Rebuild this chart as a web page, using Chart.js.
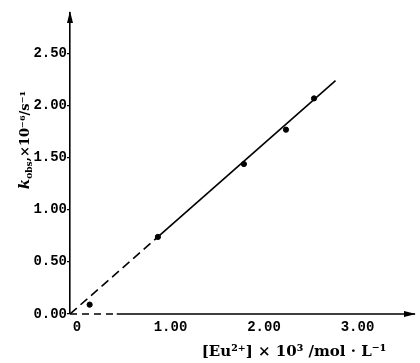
<!DOCTYPE html>
<html><head><meta charset="utf-8">
<script src="https://cdn.jsdelivr.net/npm/chart.js@4"></script>
<style>html,body{margin:0;padding:0;background:#fff}#wrap{width:420px;height:363px}</style>
</head><body><div id="wrap"><canvas id="c" width="420" height="363"></canvas></div>
<script>
const concX = [0.21, 0.94, 1.86, 2.31, 2.61];
const kobsY = [0.09, 0.74, 1.44, 1.77, 2.07];
const fitDashedX = [0, 0.94];
const fitDashedY = [0, 0.74];
const fitSolidX = [0.94, 2.84];
const fitSolidY = [0.74, 2.24];
const axisDashX = [0, 0.5];
const axisSolidX = [0.5, 3.69];
const xTicks = [0, 1, 2, 3];
const xTickLabels = ['0', '1.00', '2.00', '3.00'];
const yTicks = [0, 0.5, 1, 1.5, 2, 2.5];
const yTickLabels = ['0.00', '0.50', '1.00', '1.50', '2.00', '2.50'];
const xMax = 3.69, yMax = 2.89;

const pts = (xs, ys) => xs.map((x, i) => ({x, y: ys[i]}));

const arrows = {
  id: 'arrows',
  afterDraw(chart) {
    const {ctx, scales: {x, y}} = chart;
    ctx.save();
    ctx.fillStyle = '#000';
    const x0 = x.getPixelForValue(0), yt = y.getPixelForValue(yMax);
    ctx.beginPath(); ctx.moveTo(x0, yt - 2); ctx.lineTo(x0 - 3, yt + 10); ctx.lineTo(x0 + 3, yt + 10); ctx.closePath(); ctx.fill();
    const y0 = y.getPixelForValue(0), xr = x.getPixelForValue(xMax);
    ctx.beginPath(); ctx.moveTo(xr + 1, y0); ctx.lineTo(xr - 11, y0 - 3); ctx.lineTo(xr - 11, y0 + 3); ctx.closePath(); ctx.fill();
    ctx.textBaseline = 'alphabetic';
    ctx.font = 'bold 15px "DejaVu Serif", serif';
    ctx.textAlign = 'center';
    ctx.fillText('[Eu²⁺] × 10³ /mol · L⁻¹', 294, 356);
    ctx.translate(29, 140);
    ctx.rotate(-Math.PI / 2);
    ctx.textAlign = 'left';
    const parts = [
      {t: 'k', f: 'italic bold 15px "DejaVu Serif", serif', dy: 0},
      {t: 'obs', f: 'bold 9px "DejaVu Serif", serif', dy: 3},
      {t: ',×10⁻⁶/s⁻¹', f: 'bold 13px "DejaVu Serif", serif', dy: 0}
    ];
    let w = 0;
    parts.forEach(p => { ctx.font = p.f; w += ctx.measureText(p.t).width; });
    let cx = -w / 2;
    parts.forEach(p => { ctx.font = p.f; ctx.fillText(p.t, cx, p.dy); cx += ctx.measureText(p.t).width; });
    ctx.restore();
  }
};

new Chart(document.getElementById('c'), {
  type: 'scatter',
  data: {
    datasets: [
      {data: pts(axisDashX, [0, 0]), showLine: true, borderColor: '#000', borderWidth: 1.6, borderDash: [7, 5], pointRadius: 0, clip: false},
      {data: pts(axisSolidX, [0, 0]), showLine: true, borderColor: '#000', borderWidth: 1.6, pointRadius: 0, clip: false},
      {data: pts(fitDashedX, fitDashedY), showLine: true, borderColor: '#000', borderWidth: 1.6, borderDash: [9, 5], pointRadius: 0},
      {data: pts(fitSolidX, fitSolidY), showLine: true, borderColor: '#000', borderWidth: 1.6, pointRadius: 0},
      {data: pts(concX, kobsY), showLine: false, pointRadius: 2.6, pointBackgroundColor: '#000', pointBorderColor: '#000'}
    ]
  },
  options: {
    responsive: false,
    animation: false,
    devicePixelRatio: 1,
    layout: {padding: {top: 13, right: 2, left: 0, bottom: 0}},
    plugins: {legend: {display: false}, tooltip: {enabled: false}},
    scales: {
      x: {
        type: 'linear', min: 0, max: xMax,
        afterBuildTicks: s => { s.ticks = xTicks.map(v => ({value: v})); },
        afterFit: s => { s.height = 49; },
        grid: {display: false, drawTicks: false},
        border: {display: false},
        ticks: {padding: 5, labelOffset: 7, color: '#000', maxRotation: 0, autoSkip: false,
          font: {family: '"Liberation Mono", monospace', weight: 'bold', size: 14},
          callback: v => xTickLabels[xTicks.indexOf(v)]}
      },
      y: {
        type: 'linear', min: 0, max: yMax,
        afterBuildTicks: s => { s.ticks = yTicks.map(v => ({value: v})); },
        afterFit: s => { s.width = 70; },
        grid: {display: true, drawOnChartArea: false, drawTicks: true, tickLength: 3, color: '#000', lineWidth: 1.2},
        border: {display: true, color: '#000', width: 1.6},
        ticks: {padding: 0, color: '#000', autoSkip: false,
          font: {family: '"Liberation Mono", monospace', weight: 'bold', size: 14},
          callback: v => yTickLabels[yTicks.indexOf(v)]}
      }
    }
  },
  plugins: [arrows]
});
</script></body></html>
